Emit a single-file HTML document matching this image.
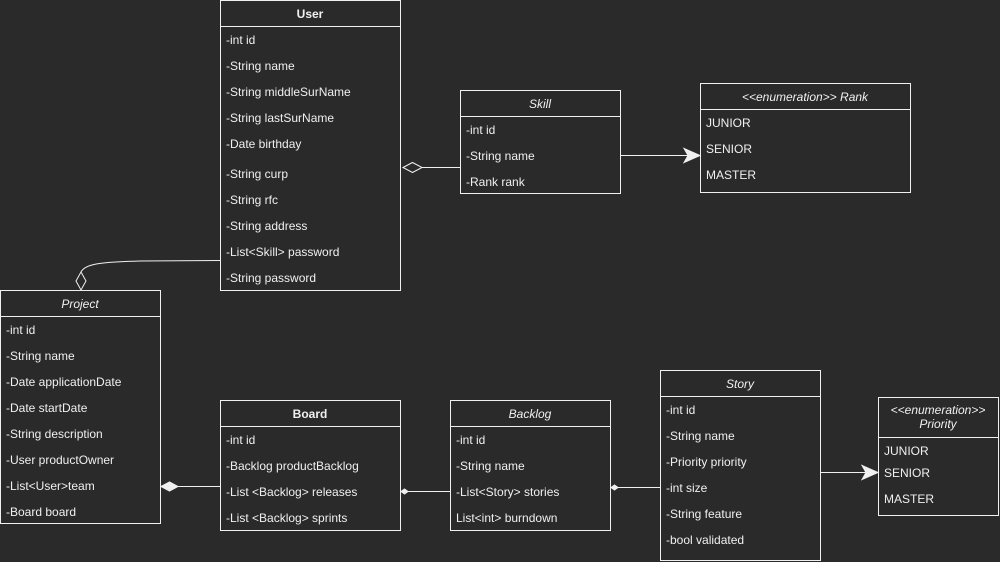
<!DOCTYPE html>
<html><head><meta charset="utf-8"><style>
html,body{margin:0;padding:0;background:#2a2a2a;}
svg{display:block}
text{font-family:"Liberation Sans",Arial,sans-serif;font-size:12px;fill:#f0f0f0;}
.b{fill:none;stroke:#f0f0f0;stroke-width:1}
.h{font-weight:bold;text-anchor:middle}
.i{font-style:italic;text-anchor:middle}
</style></head><body>
<svg width="1000" height="562" viewBox="0 0 1000 562">
<rect width="1000" height="562" fill="#2a2a2a"/>
<g class="b">
<!-- User -->
<rect x="220.5" y="0.5" width="180" height="290"/><line x1="220" y1="26.5" x2="400" y2="26.5"/>
<!-- Skill -->
<rect x="460.5" y="90.5" width="160" height="103"/><line x1="460" y1="116.5" x2="620" y2="116.5"/>
<!-- Rank -->
<rect x="700.5" y="83.5" width="210" height="109"/><line x1="700" y1="109.5" x2="910" y2="109.5"/>
<!-- Project -->
<rect x="0.5" y="290.5" width="160" height="233"/><line x1="0" y1="316.5" x2="160" y2="316.5"/>
<!-- Board -->
<rect x="220.5" y="400.5" width="180" height="130"/><line x1="220" y1="426.5" x2="400" y2="426.5"/>
<!-- Backlog -->
<rect x="450.5" y="400.5" width="160" height="130"/><line x1="450" y1="426.5" x2="610" y2="426.5"/>
<!-- Story -->
<rect x="660.5" y="370.5" width="160" height="190"/><line x1="660" y1="396.5" x2="820" y2="396.5"/>
<!-- Priority -->
<rect x="878.5" y="397.5" width="120" height="118"/><line x1="878" y1="437.5" x2="998" y2="437.5"/>
<!-- connectors -->
<line x1="422" y1="167.5" x2="460" y2="167.5"/>
<polygon points="403,167.5 412.5,162.5 422,167.5 412.5,172.5"/>
<line x1="620" y1="155.5" x2="688" y2="155.5"/>
<path d="M220,260.5 L140,261 C100,262 85,264 81,272"/>
<polygon points="81,272 86,281 81,290 76,281"/>
<line x1="178" y1="486.5" x2="220" y2="486.5"/>
<line x1="400" y1="491.5" x2="450" y2="491.5"/>
<line x1="610" y1="487.5" x2="660" y2="487.5"/>
<line x1="820" y1="472.5" x2="866" y2="472.5"/>
</g>
<g fill="#f0f0f0" stroke="#f0f0f0">
<polygon points="700,155.5 684,148.5 688,155.5 684,162.5"/>
<polygon points="878,472.5 862,465.5 866,472.5 862,479.5"/>
<polygon points="161,486.5 169.5,482 178,486.5 169.5,491"/>
<polygon points="401,491.5 404.5,489 408,491.5 404.5,494"/>
<polygon points="611,487.5 614.5,485 618,487.5 614.5,490"/>
</g>
<!-- User text -->
<text class="h" x="310" y="18">User</text>
<text x="226" y="44">-int id</text>
<text x="226" y="70">-String name</text>
<text x="226" y="96">-String middleSurName</text>
<text x="226" y="122">-String lastSurName</text>
<text x="226" y="148">-Date birthday</text>
<text x="226" y="178">-String curp</text>
<text x="226" y="204">-String rfc</text>
<text x="226" y="230">-String address</text>
<text x="226" y="256">-List&lt;Skill&gt; password</text>
<text x="226" y="282">-String password</text>
<!-- Skill -->
<text class="i" x="540" y="108">Skill</text>
<text x="466" y="134">-int id</text>
<text x="466" y="160">-String name</text>
<text x="466" y="186">-Rank rank</text>
<!-- Rank -->
<text class="i" x="805" y="101">&lt;&lt;enumeration&gt;&gt; Rank</text>
<text x="706" y="127">JUNIOR</text>
<text x="706" y="153">SENIOR</text>
<text x="706" y="179">MASTER</text>
<!-- Project -->
<text class="i" x="80" y="308">Project</text>
<text x="6" y="334">-int id</text>
<text x="6" y="360">-String name</text>
<text x="6" y="386">-Date applicationDate</text>
<text x="6" y="412">-Date startDate</text>
<text x="6" y="438">-String description</text>
<text x="6" y="464">-User productOwner</text>
<text x="6" y="490">-List&lt;User&gt;team</text>
<text x="6" y="516">-Board board</text>
<!-- Board -->
<text class="h" x="310" y="418">Board</text>
<text x="226" y="444">-int id</text>
<text x="226" y="470">-Backlog productBacklog</text>
<text x="226" y="496">-List &lt;Backlog&gt; releases</text>
<text x="226" y="522">-List &lt;Backlog&gt; sprints</text>
<!-- Backlog -->
<text class="i" x="530" y="418">Backlog</text>
<text x="456" y="444">-int id</text>
<text x="456" y="470">-String name</text>
<text x="456" y="496">-List&lt;Story&gt; stories</text>
<text x="456" y="522">List&lt;int&gt; burndown</text>
<!-- Story -->
<text class="i" x="740" y="388">Story</text>
<text x="666" y="414">-int id</text>
<text x="666" y="440">-String name</text>
<text x="666" y="466">-Priority priority</text>
<text x="666" y="492">-int size</text>
<text x="666" y="518">-String feature</text>
<text x="666" y="544">-bool validated</text>
<!-- Priority -->
<text class="i" x="938" y="414">&lt;&lt;enumeration&gt;&gt;</text>
<text class="i" x="938" y="428">Priority</text>
<text x="884" y="455">JUNIOR</text>
<text x="884" y="477">SENIOR</text>
<text x="884" y="503">MASTER</text>
</svg>
</body></html>
